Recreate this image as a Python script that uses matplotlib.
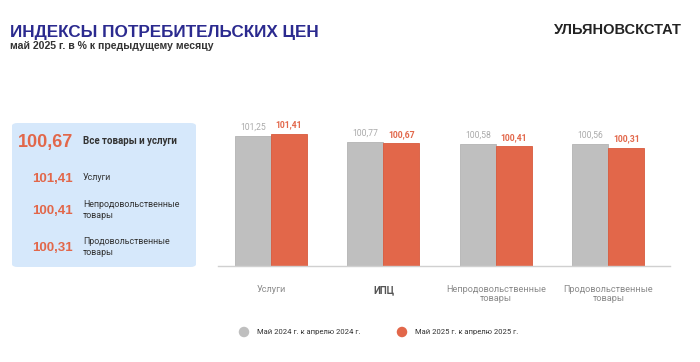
import matplotlib
matplotlib.use("Agg")
import matplotlib.pyplot as plt
from matplotlib.patches import FancyBboxPatch, Ellipse
import numpy as np

categories = ["Услуги", "ИПЦ", "Непродовольственные\nтовары", "Продовольственные\nтовары"]
may_2024 = [101.25, 100.77, 100.58, 100.56]
may_2025 = [101.41, 100.67, 100.41, 100.31]
series_labels = ["Май 2024 г. к апрелю 2024 г.", "Май 2025 г. к апрелю 2025 г."]

box_values = ["100,67", "101,41", "100,41", "100,31"]
box_labels = ["Все товары и услуги", "Услуги", "Непродовольственные\nтовары", "Продовольственные\nтовары"]

title = "ИНДЕКСЫ ПОТРЕБИТЕЛЬСКИХ ЦЕН"
subtitle = "май 2025 г. в % к предыдущему месяцу"
brand = "УЛЬЯНОВСКСТАТ"

GRAY = "#bfbfbf"
ORANGE = "#e2674a"
W, H = 700, 362


def fx(px):
    return px / W


def fy(py):
    return 1 - py / H


def fmt(v):
    return f"{v:.2f}".replace(".", ",")


fig = plt.figure(figsize=(7, 3.62), dpi=100)
fig.patch.set_facecolor("white")

# header
fig.text(fx(10), fy(32), title, fontsize=12.3, fontweight="bold", color="#2b2a8f",
         family="Liberation Sans", va="center", ha="left")
fig.text(fx(10), fy(46), subtitle, fontsize=7.6, fontweight="bold", color="#333333",
         family="Liberation Sans", va="center", ha="left")
fig.text(fx(682), fy(30), brand, fontsize=10.5, fontweight="bold", color="#222222",
         family="Liberation Sans", va="center", ha="right")

# left summary box
box = FancyBboxPatch((fx(12), fy(267)), fx(184), (267 - 123) / H,
                     boxstyle="round,pad=0,rounding_size=0.008",
                     transform=fig.transFigure, facecolor="#d6e8fb", edgecolor="none")
fig.patches.append(box)

rows_y = [142, 179, 211, 248]
sizes = [13, 9.5, 9.5, 9.5]
for i, (v, lab) in enumerate(zip(box_values, box_labels)):
    fig.text(fx(73), fy(rows_y[i]), v, fontsize=sizes[i], fontweight="bold", color=ORANGE,
             family="Liberation Sans", va="center", ha="right")
    fig.text(fx(83), fy(rows_y[i] - 1), lab, fontsize=7 if i == 0 else 6.4, color="#333333",
             fontweight="bold" if i == 0 else "normal",
             family="Roboto", va="center", ha="left", linespacing=1.3)

# bar chart
ax = fig.add_axes([fx(218), fy(266), fx(670 - 218), (266 - 100) / H])
x = np.arange(len(categories))
bw = 0.32
base = 90.68
ax.bar(x - bw / 2, np.array(may_2024) - base, bottom=base, width=bw, color=GRAY,
       edgecolor="#b3b3b3", linewidth=0.6)
ax.bar(x + bw / 2, np.array(may_2025) - base, bottom=base, width=bw, color=ORANGE,
       edgecolor="#d95a3c", linewidth=0.6)
for xi, a, b in zip(x, may_2024, may_2025):
    ax.text(xi - bw / 2, a + 0.35, fmt(a), ha="center", va="bottom", fontsize=6.2,
            color="#aaaaaa", family="Roboto")
    ax.text(xi + bw / 2, b + 0.35, fmt(b), ha="center", va="bottom", fontsize=6.2,
            color=ORANGE, fontweight="bold", family="Roboto")

ax.set_xlim(-0.471, 3.547)
ax.set_ylim(base, base + 166 / 12.3)
for s in ["top", "right", "left"]:
    ax.spines[s].set_visible(False)
ax.spines["bottom"].set_color("#d0d0d0")
ax.spines["bottom"].set_linewidth(1)
ax.set_yticks([])
ax.set_xticks(x)
ax.set_xticklabels(categories, family="Roboto", fontsize=6.6, color="#8a8a8a", linespacing=0.95)
ax.tick_params(axis="x", length=0, pad=14)
tl = ax.get_xticklabels()
tl[1].set_fontweight("bold")
tl[1].set_color("#555555")
tl[1].set_fontsize(7)

# legend
for cx, tx, col, lab in [(244, 257, GRAY, series_labels[0]), (402, 415, ORANGE, series_labels[1])]:
    fig.patches.append(Ellipse((fx(cx), fy(332)), 10.5 / W, 10.5 / H, transform=fig.transFigure,
                               facecolor=col, edgecolor="none"))
    fig.text(fx(tx), fy(332), lab, fontsize=5.5, color="#333333", family="Roboto",
             va="center", ha="left")

fig.savefig("out.png", dpi=100, facecolor="white")
